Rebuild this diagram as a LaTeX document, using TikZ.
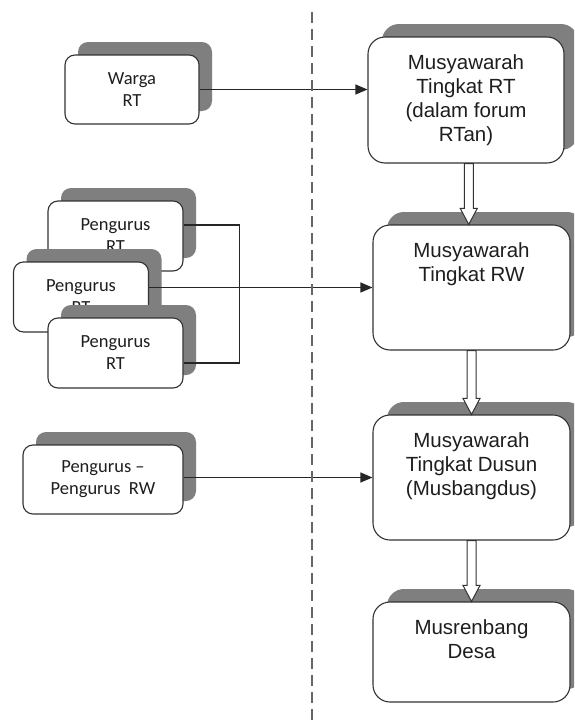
\documentclass[tikz,border=0pt]{standalone}
\usepackage{fontspec}
\setmainfont{Liberation Sans}
\newfontfamily\calfont{Carlito}
\usetikzlibrary{shadows,arrows.meta,calc}
\definecolor{shadowgray}{HTML}{7F7F7F}
\definecolor{boxline}{HTML}{333333}
\definecolor{txt}{HTML}{1E1E1E}
\newcommand\hollowarrowbetween[2]{%
  \draw[harrow] let \p1=(#1.south), \p2=(#2.north), \n1={(\x1+\x2)/2} in
    (\n1-4.5pt,\y1) -- (\n1-4.5pt,\y2+16pt) -- (\n1-8.5pt,\y2+16pt) -- (\n1,\y2)
    -- (\n1+8.5pt,\y2+16pt) -- (\n1+4.5pt,\y2+16pt) -- (\n1+4.5pt,\y1) -- cycle;}
\begin{document}
\begin{tikzpicture}[x=1pt,y=-1pt,
  lbox/.style={draw=boxline, fill=white, rounded corners=10pt, line width=1.1pt,
    inner sep=0pt, align=center, text=txt, font=\calfont\fontsize{18.5}{22}\selectfont,
    general shadow={fill=shadowgray, shadow xshift=13pt, shadow yshift=13pt}},
  rbox/.style={draw=boxline, fill=white, rounded corners=17pt, line width=1.1pt,
    inner sep=0pt,
    general shadow={fill=shadowgray, shadow xshift=14pt, shadow yshift=13pt}},
  rtext/.style={inner sep=0pt, anchor=base, text=txt, font=\fontsize{20.5}{24}\selectfont},
  conn/.style={draw=black!85, line width=1.2pt},
  arr/.style={conn, -{Triangle[length=12pt,width=10pt]}},
  harrow/.style={draw=boxline, fill=white, line width=1pt},
  divider/.style={draw=black!60, line width=1.3pt, dash pattern=on 11pt off 6pt}]
\useasboundingbox (0,0) rectangle (574,720);
\fill[white] (0,0) rectangle (574,720);
\clip (0,0) rectangle (574,720);

% left column
\node[lbox, minimum width=134pt, minimum height=69pt] (warga) at (132,89.5) {Warga\\RT};
\node[lbox, minimum width=135pt, minimum height=70pt] (p1) at (115.5,236) {Pengurus\\RT};
\node[lbox, minimum width=135pt, minimum height=70pt] (p2) at (81,297) {Pengurus\\RT};
\node[lbox, minimum width=135pt, minimum height=70pt] (p3) at (115.5,353) {Pengurus\\RT};
\node[lbox, minimum width=160pt, minimum height=69pt] (prw) at (103,479.5) {Pengurus –\\Pengurus\hspace{0.45em}RW};

% right column
\node[rbox, minimum width=196pt, minimum height=126pt] (m1) at (466,100) {};
\node[rbox, minimum width=197pt, minimum height=125pt] (m2) at (471.5,287.5) {};
\node[rbox, minimum width=197pt, minimum height=125pt] (m3) at (471.5,477.5) {};
\node[rbox, minimum width=197pt, minimum height=100pt] (m4) at (471.5,652) {};

\node[rtext] (m1t) at ($(m1.north)+(0,33)$) {\parbox[t]{190pt}{\centering Musyawarah\\Tingkat RT\\(dalam forum\\RTan)}};
\node[rtext] (m2t) at ($(m2.north)+(0,33)$) {\parbox[t]{190pt}{\centering Musyawarah\\Tingkat RW}};
\node[rtext] (m3t) at ($(m3.north)+(0,33)$) {\parbox[t]{190pt}{\centering Musyawarah\\Tingkat Dusun\\(Musbangdus)}};
\node[rtext] (m4t) at ($(m4.north)+(0,33)$) {\parbox[t]{190pt}{\centering Musrenbang\\Desa}};

% hollow arrows
\hollowarrowbetween{m1}{m2}
\hollowarrowbetween{m2}{m3}
\hollowarrowbetween{m3}{m4}

% connectors
\draw[arr] (warga.east) -- (warga.east -| m1.west);
\draw[conn] ([yshift=11pt]p1.east) -- ++(56,0) |- ([yshift=-10pt]p3.east);
\draw[arr] (p2.east |- m2.west) -- (m2.west);
\draw[arr] (prw.east |- m3.west) -- (m3.west);

% divider
\coordinate (dtop) at (312,12);
\coordinate (dbot) at (312,722);
\draw[divider] (dtop) -- (dbot);
\end{tikzpicture}
\end{document}
